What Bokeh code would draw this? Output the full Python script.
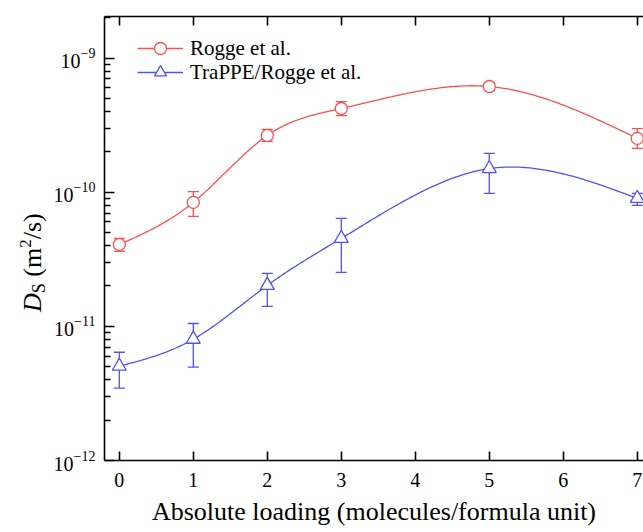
import numpy as np
from bokeh.plotting import figure
from bokeh.layouts import row
from bokeh.models import (Range1d, FixedTicker, LinearAxis, CustomJSTickFormatter,
                          Whisker, TeeHead, ColumnDataSource, Legend, LegendItem, Div)
from bokeh.embed import file_html
from bokeh.resources import INLINE

# ---------------- data ----------------
loading = [0, 1, 2, 3, 5, 7]
rogge = [4.08e-11, 8.4e-11, 2.65e-10, 4.21e-10, 6.14e-10, 2.52e-10]
rogge_hi = [4.53e-11, 1.01e-10, 2.94e-10, 4.74e-10, 6.58e-10, 2.98e-10]
rogge_lo = [3.62e-11, 6.6e-11, 2.39e-10, 3.73e-10, 5.73e-10, 2.12e-10]
trappe = [5.05e-12, 8.02e-12, 2.02e-11, 4.53e-11, 1.50e-10, 9.0e-11]
trappe_hi = [6.41e-12, 1.05e-11, 2.48e-11, 6.38e-11, 1.95e-10, 9.8e-11]
trappe_lo = [3.46e-12, 4.96e-12, 1.41e-11, 2.53e-11, 9.8e-11, 7.98e-11]
series_names = ["Rogge et al.", "TraPPE/Rogge et al."]
x_ticks = [0, 1, 2, 3, 4, 5, 6, 7]
y_major = [1e-12, 1e-11, 1e-10, 1e-9]
x_title = "Absolute loading (molecules/formula unit)"

RED = "#ff5050"
BLUE = "#5050ff"
FONT = "Liberation Serif"

# ---------------- layout constants ----------------
W, H = 643, 532
WL = 46                 # width of the strip holding the y title
LEFT, TOP, BOTTOM = 104, 16, 72
X0, X1 = -0.2, 7.084
YLOG0, YLOG1 = -12.0, -8.69


def natural_spline(xs, ys, xq):
    xs = np.asarray(xs, float)
    ys = np.asarray(ys, float)
    n = len(xs)
    h = np.diff(xs)
    A = np.zeros((n, n))
    b = np.zeros(n)
    A[0, 0] = 1
    A[-1, -1] = 1
    for i in range(1, n - 1):
        A[i, i - 1] = h[i - 1]
        A[i, i] = 2 * (h[i - 1] + h[i])
        A[i, i + 1] = h[i]
        b[i] = 6 * ((ys[i + 1] - ys[i]) / h[i] - (ys[i] - ys[i - 1]) / h[i - 1])
    M = np.linalg.solve(A, b)
    out = np.empty_like(xq)
    for k, x in enumerate(xq):
        i = min(max(np.searchsorted(xs, x) - 1, 0), n - 2)
        t1 = xs[i + 1] - x
        t0 = x - xs[i]
        out[k] = (M[i] * t1 ** 3 / (6 * h[i]) + M[i + 1] * t0 ** 3 / (6 * h[i])
                  + (ys[i] / h[i] - M[i] * h[i] / 6) * t1
                  + (ys[i + 1] / h[i] - M[i + 1] * h[i] / 6) * t0)
    return out


p = figure(width=W - WL, height=H, output_backend="svg", toolbar_location=None,
           y_axis_type="log", x_range=Range1d(X0, X1),
           y_range=Range1d(10 ** YLOG0, 10 ** YLOG1),
           min_border_left=LEFT - WL, min_border_right=0, min_border_top=TOP,
           min_border_bottom=BOTTOM)
p.outline_line_color = None
p.xgrid.visible = False
p.ygrid.visible = False
p.background_fill_color = "white"
p.border_fill_color = "white"

empty = CustomJSTickFormatter(code="return ''")

# bottom axis
xa = p.xaxis[0]
xa.ticker = FixedTicker(ticks=x_ticks)
xa.major_tick_in = 9
xa.major_tick_out = 0
xa.minor_tick_line_color = None
xa.axis_line_width = 1.6
xa.major_tick_line_width = 1.6
xa.major_label_text_font = FONT
xa.major_label_text_font_size = "20px"
xa.major_label_text_color = "black"
xa.major_label_standoff = 12
xa.axis_label = x_title
xa.axis_label_text_font = FONT
xa.axis_label_text_font_size = "26px"
xa.axis_label_text_font_style = "normal"
xa.axis_label_text_color = "black"
xa.axis_label_standoff = 7

# left axis (log formatter draws 10 with a raised exponent)
minor = [k * 10.0 ** e for e in (-12, -11, -10, -9) for k in range(2, 10)]
ya = p.yaxis[0]
ya.ticker = FixedTicker(ticks=y_major, minor_ticks=minor)
ya.major_label_text_font = FONT
ya.major_label_text_font_size = "20px"
ya.major_label_text_color = "black"
ya.major_label_standoff = 9
ya.major_tick_in = 10
ya.major_tick_out = 0
ya.minor_tick_in = 6
ya.minor_tick_out = 0
ya.axis_line_width = 1.6
ya.major_tick_line_width = 1.6
ya.minor_tick_line_width = 1.4

# top mirror axis
ta = LinearAxis(ticker=FixedTicker(ticks=x_ticks), formatter=empty,
                major_tick_in=9, major_tick_out=0, minor_tick_line_color=None,
                axis_line_width=1.6, major_tick_line_width=1.6)
p.add_layout(ta, "above")

# smooth curves in log space
xq = np.linspace(0, 7, 300)
r_curve = 10 ** natural_spline(loading, np.log10(rogge), xq)
t_curve = 10 ** natural_spline(loading, np.log10(trappe), xq)

lr = p.line(xq, r_curve, line_color=RED, line_width=1.3)
lt = p.line(xq, t_curve, line_color=BLUE, line_width=1.3)

src_r = ColumnDataSource(dict(x=loading, y=rogge, hi=rogge_hi, lo=rogge_lo))
src_t = ColumnDataSource(dict(x=loading, y=trappe, hi=trappe_hi, lo=trappe_lo))

for src, col in ((src_r, RED), (src_t, BLUE)):
    p.add_layout(Whisker(source=src, base="x", upper="hi", lower="lo",
                         line_color=col, line_width=1.3,
                         upper_head=TeeHead(size=11, line_color=col, line_width=1.3),
                         lower_head=TeeHead(size=11, line_color=col, line_width=1.3)))

sr = p.scatter("x", "y", source=src_r, marker="circle", size=12,
               fill_color="white", line_color=RED, line_width=1.3)
st = p.scatter("x", "y", source=src_t, marker="triangle", size=14,
               fill_color="white", line_color=BLUE, line_width=1.3)

# one legend per row so that the row pitch matches
for name, rends, loc in ((series_names[0], [lr, sr], (33, 397)),
                         (series_names[1], [lt, st], (33, 373))):
    p.add_layout(Legend(items=[LegendItem(label=name, renderers=rends)],
                        location=loc, glyph_width=46, glyph_height=30,
                        label_height=30, label_standoff=7, spacing=0, padding=0,
                        margin=0, border_line_color=None, background_fill_alpha=0,
                        label_text_font=FONT, label_text_font_size="21px",
                        label_text_color="black"))

# ---------------- y title (rich text, rotated) ----------------
title_html = (
    '<div style="position:relative;width:%dpx;height:%dpx;">'
    '<span style="position:absolute;left:20px;top:312px;transform-origin:0 0;'
    'transform:rotate(-90deg);white-space:nowrap;font-family:\'Liberation Serif\';'
    'font-size:26px;line-height:26px;color:black;">'
    '<i>D</i><span style="position:relative;top:4px;font-size:18px;">S</span>'
    '&nbsp;(m<span style="position:relative;top:-10px;font-size:17px;">2</span>/s)'
    '</span></div>' % (WL, H)
)
ytitle = Div(text=title_html, width=WL, height=H, margin=0)

layout = row(ytitle, p, spacing=0)
open("out.html", "w").write(file_html(layout, INLINE))
